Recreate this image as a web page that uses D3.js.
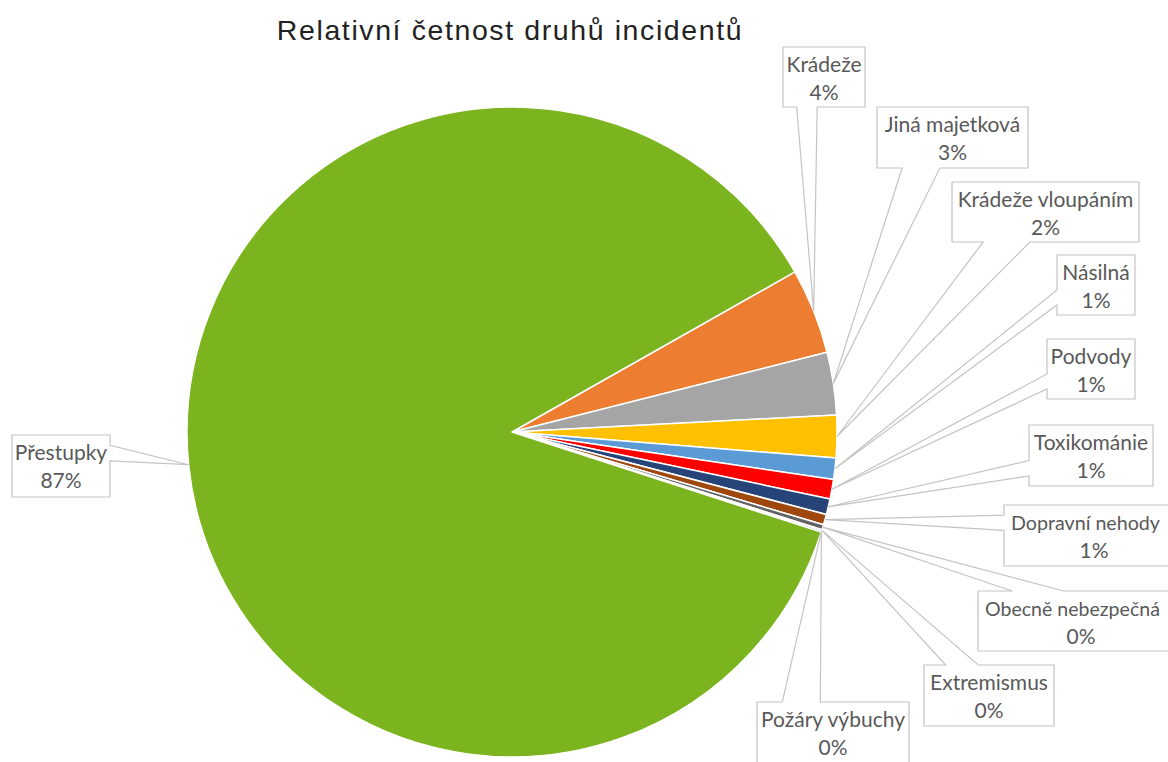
<!DOCTYPE html>
<html>
<head>
<meta charset="utf-8">
<script src="https://cdn.jsdelivr.net/npm/d3@7"></script>
<style>
  body { margin: 0; background: #fff; }
</style>
</head>
<body>
<div id="chart"></div>
<script>
var categories = ["Krádeže", "Jiná majetková", "Krádeže vloupáním", "Násilná", "Podvody",
    "Toxikománie", "Dopravní nehody", "Obecně nebezpečná", "Extremismus", "Požáry výbuchy", "Přestupky"];
var values = [4.25, 3.11, 2.11, 1.06, 0.97, 0.78, 0.52, 0.25, 0.05, 0.08, 86.82];
var colors = ["#ED7D31", "#A5A5A5", "#FFC000", "#5B9BD5", "#FF0000",
    "#264478", "#9E480E", "#636363", "#997300", "#255E91", "#7BB41E"];

// callout boxes (layout only): left, top, width, height
var boxes = [
    [783, 47, 82, 60],
    [877, 107, 151, 61],
    [952, 182, 187, 60],
    [1057, 255, 78, 60],
    [1047, 339, 88, 60],
    [1029, 425, 124, 61],
    [1004, 505, 180, 61],
    [978, 591, 206, 60],
    [924, 665, 130, 61],
    [757, 702, 152, 62],
    [12, 435, 98, 62]
];

var svgWidth = 1168;
var svgHeight = 762;
var cx = 512, cy = 432, radius = 325;

var svg = d3.select("#chart")
    .append("svg")
    .attr("width", svgWidth)
    .attr("height", svgHeight);

svg.append("text")
    .attr("x", 510)
    .attr("y", 40)
    .attr("text-anchor", "middle")
    .style("font-family", "'Liberation Sans', Arial, sans-serif")
    .style("letter-spacing", "1.6px")
    .attr("font-size", "28.5px")
    .attr("fill", "#222")
    .text("Relativní četnost druhů incidentů");

var total = d3.sum(values);
var start = 60.5 * Math.PI / 180;

var pie = d3.pie()
    .sort(null)
    .startAngle(start)
    .endAngle(start + 2 * Math.PI);

var arcs = pie(values);

var arc = d3.arc().innerRadius(0).outerRadius(radius);

var pieGroup = svg.append("g")
    .attr("transform", `translate(${cx}, ${cy})`);

pieGroup.selectAll("path")
    .data(arcs)
    .enter()
    .append("path")
    .attr("d", arc)
    .attr("fill", (d, i) => colors[i])
    .attr("stroke", "#fff")
    .attr("stroke-width", 1.5)
    .attr("stroke-linejoin", "round");

// wedge rectangle callout, like the office preset shape
function callout(b, ax, ay) {
    var x = b[0], y = b[1], w = b[2], h = b[3];
    var dx = ax - (x + w / 2), dy = ay - (y + h / 2);
    var dz = Math.abs(dy) - Math.abs(dx * h / w);
    if (dz > 0) {
        var x1 = x + w * (dx > 0 ? 7 : 2) / 12, x2 = x + w * (dx > 0 ? 10 : 5) / 12;
        if (dy > 0) {
            return `M${x},${y}H${x + w}V${y + h}H${x2}L${ax},${ay}L${x1},${y + h}H${x}Z`;
        }
        return `M${x},${y}H${x1}L${ax},${ay}L${x2},${y}H${x + w}V${y + h}H${x}Z`;
    }
    var y1 = y + h * (dy > 0 ? 7 : 2) / 12, y2 = y + h * (dy > 0 ? 10 : 5) / 12;
    if (dx > 0) {
        return `M${x},${y}H${x + w}V${y1}L${ax},${ay}L${x + w},${y2}V${y + h}H${x}Z`;
    }
    return `M${x},${y}H${x + w}V${y + h}H${x}V${y2}L${ax},${ay}L${x},${y1}Z`;
}

var labels = svg.append("g")
    .selectAll("g")
    .data(arcs)
    .enter()
    .append("g");

labels.append("path")
    .attr("d", function (d, i) {
        var a = (d.startAngle + d.endAngle) / 2;
        var ax = cx + radius * Math.sin(a);
        var ay = cy - radius * Math.cos(a);
        return callout(boxes[i], ax, ay);
    })
    .attr("fill", "#fff")
    .attr("stroke", "#C4C4C4")
    .attr("stroke-width", 1.2);

labels.append("text")
    .attr("class", "name")
    .attr("x", (d, i) => boxes[i][0] + boxes[i][2] / 2)
    .attr("y", (d, i) => boxes[i][1] + 25)
    .attr("text-anchor", "middle")
    .attr("font-family", "Lato, sans-serif")
    .attr("font-size", "21px")
    .attr("fill", "#595959")
    .text((d, i) => categories[i]);

// names running past the right edge: left-align in the box and squeeze to fit
labels.selectAll("text.name").each(function (d) {
    var t = d3.select(this);
    var len = this.getComputedTextLength();
    var x = +t.attr("x");
    var edge = svgWidth - 8;
    if (x + len / 2 > edge) {
        var left = boxes[d.index][0] + 7;
        t.attr("text-anchor", "start").attr("x", left);
        if (left + len > edge) {
            t.attr("font-size", (21 * (edge - left) / len).toFixed(2) + "px");
        }
    }
});

labels.append("text")
    .attr("x", (d, i) => boxes[i][0] + boxes[i][2] / 2)
    .attr("y", (d, i) => boxes[i][1] + 53)
    .attr("text-anchor", "middle")
    .attr("font-family", "Lato, sans-serif")
    .attr("font-size", "21px")
    .attr("fill", "#595959")
    .text(d => Math.round(d.value / total * 100) + "%");
</script>
</body>
</html>
